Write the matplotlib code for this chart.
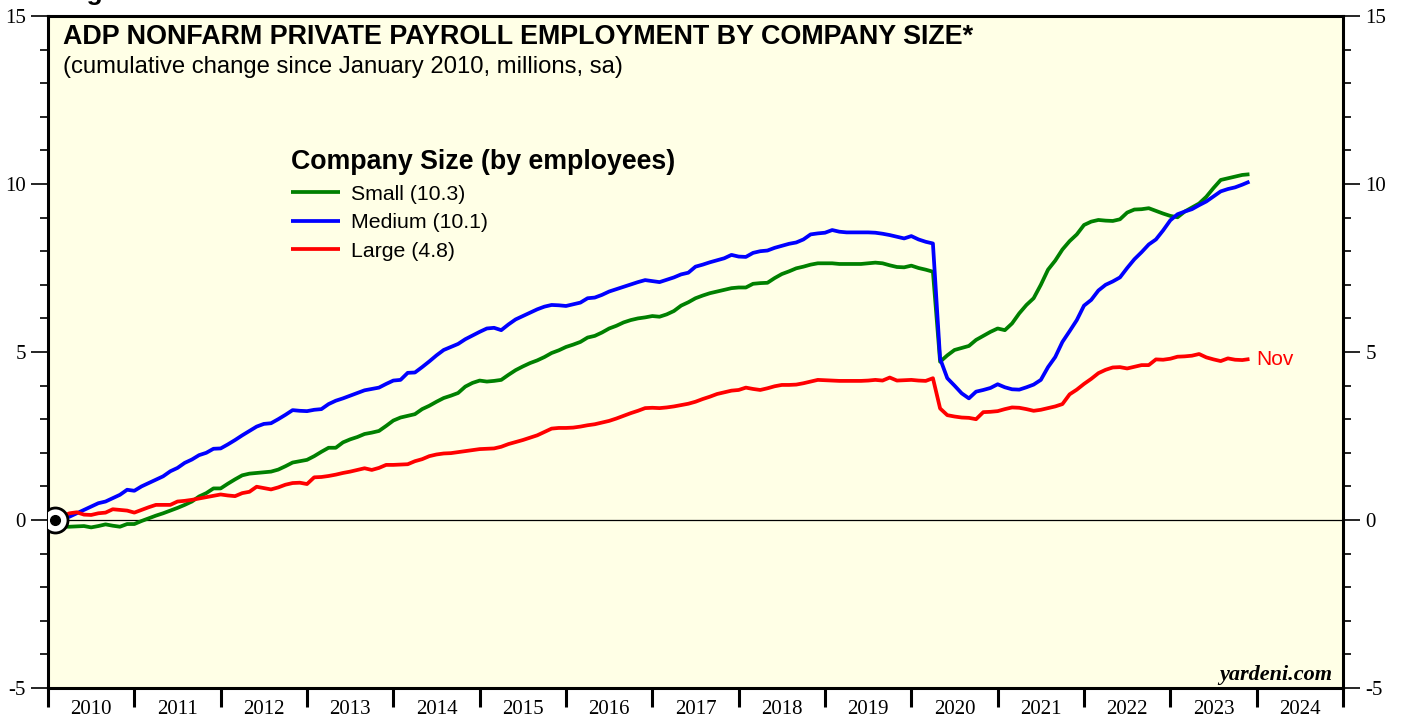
import numpy as np
import matplotlib
matplotlib.use("Agg")
import matplotlib.pyplot as plt
from matplotlib.ticker import MultipleLocator, FixedLocator, NullFormatter, FixedFormatter

# ----------------------
# Data: cumulative change since Jan 2010 (millions), monthly Jan 2010 - Nov 2023
# ----------------------
start_year = 2010

small = [
    # 2010
    0.00, -0.20, -0.20, -0.19, -0.18, -0.22, -0.18, -0.13, -0.17, -0.20, -0.12, -0.12,
    # 2011
    -0.03, 0.05, 0.13, 0.20, 0.28, 0.36, 0.45, 0.55, 0.70, 0.80, 0.94, 0.94,
    # 2012
    1.08, 1.21, 1.33, 1.38, 1.40, 1.42, 1.44, 1.50, 1.60, 1.71, 1.75, 1.79,
    # 2013
    1.90, 2.03, 2.15, 2.15, 2.31, 2.40, 2.47, 2.56, 2.60, 2.65, 2.80, 2.96,
    # 2014
    3.05, 3.10, 3.15, 3.30, 3.40, 3.52, 3.63, 3.70, 3.78, 3.97, 4.08, 4.15,
    # 2015
    4.12, 4.14, 4.17, 4.32, 4.46, 4.57, 4.67, 4.75, 4.85, 4.97, 5.05, 5.15,
    # 2016
    5.22, 5.30, 5.43, 5.48, 5.58, 5.70, 5.78, 5.88, 5.95, 6.00, 6.03, 6.07,
    # 2017
    6.05, 6.12, 6.22, 6.38, 6.48, 6.60, 6.68, 6.75, 6.80, 6.85, 6.90, 6.92,
    # 2018
    6.92, 7.03, 7.05, 7.06, 7.20, 7.32, 7.40, 7.49, 7.54, 7.60, 7.64, 7.64,
    # 2019
    7.64, 7.62, 7.62, 7.62, 7.62, 7.64, 7.66, 7.64, 7.58, 7.53, 7.52, 7.57,
    # 2020
    7.50, 7.45, 7.39, 4.71, 4.90, 5.06, 5.12, 5.18, 5.36, 5.48, 5.60, 5.70,
    # 2021
    5.65, 5.85, 6.15, 6.40, 6.60, 7.00, 7.45, 7.72, 8.05, 8.30, 8.50, 8.78,
    # 2022
    8.88, 8.93, 8.91, 8.90, 8.95, 9.15, 9.24, 9.25, 9.28, 9.20, 9.12, 9.05,
    # 2023
    9.01, 9.18, 9.30, 9.42, 9.62, 9.88, 10.12, 10.17, 10.22, 10.27, 10.29,
]

medium = [
    # 2010
    0.00, 0.05, 0.10, 0.20, 0.30, 0.40, 0.50, 0.55, 0.65, 0.75, 0.90, 0.87,
    # 2011
    1.00, 1.10, 1.20, 1.30, 1.45, 1.55, 1.70, 1.80, 1.93, 2.00, 2.12, 2.13,
    # 2012
    2.25, 2.38, 2.52, 2.65, 2.78, 2.86, 2.88, 3.00, 3.13, 3.27, 3.25, 3.24,
    # 2013
    3.28, 3.30, 3.45, 3.55, 3.62, 3.70, 3.78, 3.86, 3.90, 3.94, 4.05, 4.15,
    # 2014
    4.17, 4.38, 4.39, 4.55, 4.72, 4.90, 5.06, 5.15, 5.24, 5.38, 5.49, 5.60,
    # 2015
    5.70, 5.72, 5.65, 5.82, 5.97, 6.07, 6.17, 6.27, 6.35, 6.40, 6.39, 6.37,
    # 2016
    6.42, 6.47, 6.60, 6.62, 6.70, 6.80, 6.87, 6.94, 7.01, 7.08, 7.14, 7.11,
    # 2017
    7.08, 7.15, 7.22, 7.31, 7.36, 7.54, 7.60, 7.67, 7.73, 7.79, 7.89, 7.84,
    # 2018
    7.83, 7.95, 8.00, 8.02, 8.10, 8.16, 8.22, 8.26, 8.35, 8.50, 8.53, 8.55,
    # 2019
    8.63, 8.58, 8.56, 8.56, 8.56, 8.56, 8.55, 8.52, 8.48, 8.43, 8.38, 8.45,
    # 2020
    8.35, 8.28, 8.23, 4.80, 4.22, 4.00, 3.77, 3.62, 3.82, 3.87, 3.93, 4.04,
    # 2021
    3.95, 3.89, 3.88, 3.95, 4.03, 4.17, 4.55, 4.85, 5.30, 5.62, 5.95, 6.38,
    # 2022
    6.55, 6.83, 7.00, 7.10, 7.22, 7.50, 7.76, 7.97, 8.20, 8.35, 8.62, 8.92,
    # 2023
    9.10, 9.18, 9.25, 9.37, 9.48, 9.63, 9.78, 9.85, 9.90, 9.98, 10.07,
]

large = [
    # 2010
    0.00, 0.12, 0.20, 0.23, 0.16, 0.15, 0.20, 0.22, 0.32, 0.30, 0.28, 0.22,
    # 2011
    0.30, 0.38, 0.45, 0.45, 0.45, 0.55, 0.57, 0.60, 0.64, 0.68, 0.72, 0.76,
    # 2012
    0.73, 0.71, 0.80, 0.84, 0.99, 0.95, 0.91, 0.97, 1.05, 1.10, 1.11, 1.07,
    # 2013
    1.27, 1.28, 1.31, 1.35, 1.40, 1.44, 1.49, 1.54, 1.49, 1.55, 1.64, 1.64,
    # 2014
    1.65, 1.66, 1.75, 1.81, 1.90, 1.95, 1.98, 1.99, 2.02, 2.05, 2.08, 2.11,
    # 2015
    2.12, 2.13, 2.18, 2.26, 2.32, 2.38, 2.45, 2.52, 2.62, 2.72, 2.74, 2.74,
    # 2016
    2.75, 2.78, 2.82, 2.85, 2.90, 2.95, 3.02, 3.10, 3.18, 3.25, 3.33, 3.34,
    # 2017
    3.33, 3.35, 3.38, 3.42, 3.46, 3.52, 3.60, 3.67, 3.75, 3.80, 3.85, 3.87,
    # 2018
    3.94, 3.90, 3.87, 3.92, 3.98, 4.02, 4.02, 4.03, 4.07, 4.12, 4.17, 4.16,
    # 2019
    4.15, 4.14, 4.14, 4.14, 4.14, 4.15, 4.17, 4.15, 4.24, 4.15, 4.16, 4.17,
    # 2020
    4.15, 4.14, 4.22, 3.32, 3.12, 3.08, 3.05, 3.04, 3.00, 3.21, 3.22, 3.24,
    # 2021
    3.30, 3.35, 3.34, 3.30, 3.25, 3.28, 3.33, 3.38, 3.45, 3.74, 3.88, 4.05,
    # 2022
    4.20, 4.37, 4.47, 4.54, 4.55, 4.51, 4.56, 4.61, 4.61, 4.78, 4.77, 4.80,
    # 2023
    4.86, 4.87, 4.89, 4.94, 4.84, 4.78, 4.73, 4.81, 4.77, 4.76, 4.79,
]

series_labels = ["Small (10.3)", "Medium (10.1)", "Large (4.8)"]
series_colors = ["#008000", "#0000ff", "#ff0000"]
year_labels = [str(y) for y in range(2010, 2025)]

# ----------------------
# Fonts
# ----------------------
SANS = "Liberation Sans"
SERIF = "Liberation Serif"
plt.rcParams["font.family"] = SANS
plt.rcParams["axes.unicode_minus"] = False

# ----------------------
# Figure
# ----------------------
W, H = 1403, 717
fig = plt.figure(figsize=(W / 100, H / 100), dpi=100)
ax = fig.add_axes([48 / W, 29 / H, (1343 - 48) / W, (688 - 16) / H])
ax.set_facecolor("#ffffe6")

# month-end positions on a decimal-year axis
x = start_year + (np.arange(len(small)) + 1) / 12.0

ax.axhline(0, color="black", lw=0.9, zorder=1)
lines = []
for vals, lab, col in zip([small, medium, large], series_labels, series_colors):
    ln, = ax.plot(x, vals, color=col, lw=2.7, label=lab, zorder=3,
                  solid_joinstyle="round", solid_capstyle="butt")
    lines.append(ln)

# base point marker
ax.plot(x[0], 0, marker="o", ms=18, mfc="white", mec="black", mew=2, zorder=5)
ax.plot(x[0], 0, marker="o", ms=7, color="black", zorder=6)

ax.set_xlim(2010, 2025)
ax.set_ylim(-5, 15)

# spines
for s in ax.spines.values():
    s.set_linewidth(2.2)
    s.set_color("black")

# y ticks on both sides
ax.yaxis.set_major_locator(MultipleLocator(5))
ax.yaxis.set_minor_locator(MultipleLocator(1))
ax.tick_params(axis="y", which="both", direction="out", left=True, right=True,
               labelleft=True, labelright=True)
ax.tick_params(axis="y", which="major", length=12, width=1.2, pad=4,
               labelsize=15, labelfontfamily=SERIF)
ax.tick_params(axis="y", which="minor", length=6, width=1.2)

# x ticks: year boundaries (major), labels centered mid-year (minor)
ax.xaxis.set_major_locator(FixedLocator(np.arange(2010, 2026)))
ax.xaxis.set_major_formatter(NullFormatter())
ax.xaxis.set_minor_locator(FixedLocator(np.arange(2010, 2025) + 0.5))
ax.xaxis.set_minor_formatter(FixedFormatter(year_labels))
ax.tick_params(axis="x", which="major", direction="out", length=14, width=2.2)
ax.tick_params(axis="x", which="minor", length=0, pad=8.5, labelsize=15,
               labelfontfamily=SERIF)

# ----------------------
# Text
# ----------------------
ax.text(0.0116, 0.958, "ADP NONFARM PRIVATE PAYROLL EMPLOYMENT BY COMPANY SIZE*",
        transform=ax.transAxes, fontsize=19.4, fontweight="bold", va="baseline", ha="left")
ax.text(0.0116, 0.915, "(cumulative change since January 2010, millions, sa)",
        transform=ax.transAxes, fontsize=17.2, va="baseline", ha="left")
ax.text(0.992, 0.012, "yardeni.com", transform=ax.transAxes, fontsize=16,
        fontweight="bold", fontstyle="italic", family=SERIF, ha="right", va="baseline")
fig.text(63 / W, 1.0, "Figure 1.", fontsize=19, fontweight="bold", ha="left", va="baseline")

ax.annotate("Nov", xy=(x[-1], large[-1]), xytext=(5, 0), textcoords="offset points",
            color="#ff0000", fontsize=15, va="center", ha="left")

leg = ax.legend(handles=lines, title="Company Size (by employees)",
                title_fontproperties={"weight": "bold", "size": 19.3},
                fontsize=15.3, frameon=False, loc="upper left",
                bbox_to_anchor=(0.188, 0.802), borderaxespad=0, borderpad=0,
                handlelength=2.3, handletextpad=0.5, labelspacing=0.45,
                alignment="left")

fig.savefig("out.png", dpi=100)
